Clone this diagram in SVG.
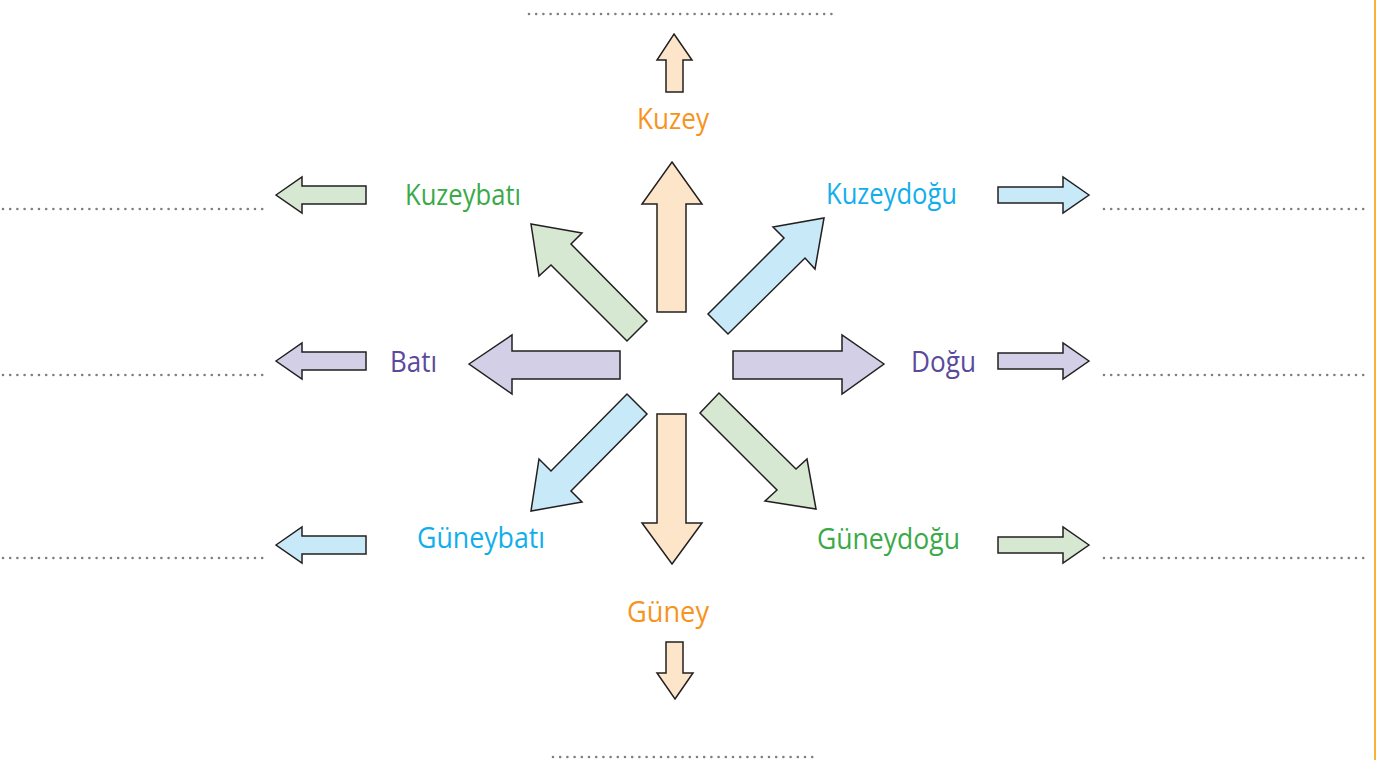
<svg xmlns="http://www.w3.org/2000/svg" width="1377" height="760" viewBox="0 0 1377 760">
<style>
.a{stroke:#231F20;stroke-width:1.5;stroke-linejoin:miter}
.o{fill:#FDE5CA}.g{fill:#D6E8D2}.b{fill:#C8E9F8}.p{fill:#D3CFE6}
.d{stroke:#7E7E7E;stroke-width:2.6;stroke-linecap:round;stroke-dasharray:0 7.2;fill:none}
text{font-family:"Open Sans","Noto Sans","Liberation Sans",sans-serif;font-size:30px}
.to{fill:#F7941D}.tg{fill:#3AAA48}.tb{fill:#12AEEA}.tp{fill:#5B4A9C}
</style>
<rect width="1377" height="760" fill="#fff"/>
<line x1="1375" y1="0" x2="1375" y2="760" stroke="#F9B233" stroke-width="2"/>
<g id="dots">
<line class="d" x1="529" y1="14" x2="838" y2="14"/>
<line class="d" x1="553" y1="757" x2="814" y2="757"/>
<line class="d" x1="3" y1="209" x2="264" y2="209"/>
<line class="d" x1="3" y1="375" x2="264" y2="375"/>
<line class="d" x1="3" y1="558" x2="264" y2="558"/>
<line class="d" x1="1104" y1="209" x2="1364" y2="209"/>
<line class="d" x1="1104" y1="375" x2="1364" y2="375"/>
<line class="d" x1="1104" y1="558" x2="1364" y2="558"/>
</g>
<g id="connectors">
<polygon id="bigN" class="a o" points="672,162 702,204 686,204 686,312 657,312 657,204 642,204"/>
<polygon id="bigS" class="a o" points="672,564 702,523 686,523 686,414 657,414 657,523 642,523"/>
<polygon id="bigW" class="a p" points="469,364 512,335 512,351 620,351 620,379 512,379 512,394"/>
<polygon id="bigE" class="a p" points="884,364 842,335 842,351 733,351 733,379 842,379 842,394"/>
<polygon id="bigNW" class="a g" points="531,224 582,233 571,244 647,321 627,341 551,265 539,276"/>
<polygon id="bigNE" class="a b" points="824,218 815,269 805,258 728,334 708,314 784,238 773,227"/>
<polygon id="bigSW" class="a b" points="531,511 539,459 551,471 627,394 647,414 571,491 582,502"/>
<polygon id="bigSE" class="a g" points="816,509 807,459 796,469 719,393 700,413 777,490 765,501"/>
<polygon id="smN" class="a o" points="674,34 692,60 683,60 683,92 666,92 666,60 657,60"/>
<polygon id="smS" class="a o" points="675,699 693,673 683,673 683,642 666,642 666,673 657,673"/>
<polygon id="smNW" class="a g" points="276,195 302,177 302,186 366,186 366,204 302,204 302,213"/>
<polygon id="smW" class="a p" points="276,361 302,343 302,352 366,352 366,370 302,370 302,379"/>
<polygon id="smSW" class="a b" points="276,545 302,527 302,536 366,536 366,554 302,554 302,563"/>
<polygon id="smNE" class="a b" points="1089,195 1063,177 1063,187 998,187 998,203 1063,203 1063,213"/>
<polygon id="smE" class="a p" points="1089,361 1063,343 1063,353 998,353 998,369 1063,369 1063,379"/>
<polygon id="smSE" class="a g" points="1089,545 1063,527 1063,537 998,537 998,553 1063,553 1063,563"/>
</g>
<g id="kuzey"><text class="to" x="637" y="129" textLength="72" lengthAdjust="spacingAndGlyphs">Kuzey</text></g>
<g id="kuzeybati"><text class="tg" x="405" y="205" textLength="116" lengthAdjust="spacingAndGlyphs">Kuzeybatı</text></g>
<g id="kuzeydogu"><text class="tb" x="826" y="204" textLength="131" lengthAdjust="spacingAndGlyphs">Kuzeydoğu</text></g>
<g id="bati"><text class="tp" x="390" y="372" textLength="47" lengthAdjust="spacingAndGlyphs">Batı</text></g>
<g id="dogu"><text class="tp" x="911" y="372" textLength="65" lengthAdjust="spacingAndGlyphs">Doğu</text></g>
<g id="guneybati"><text class="tb" x="417" y="548" textLength="128" lengthAdjust="spacingAndGlyphs">Güneybatı</text></g>
<g id="guneydogu"><text class="tg" x="817" y="549" textLength="143" lengthAdjust="spacingAndGlyphs">Güneydoğu</text></g>
<g id="guney"><text class="to" x="627" y="622" textLength="82" lengthAdjust="spacingAndGlyphs">Güney</text></g>
</svg>
